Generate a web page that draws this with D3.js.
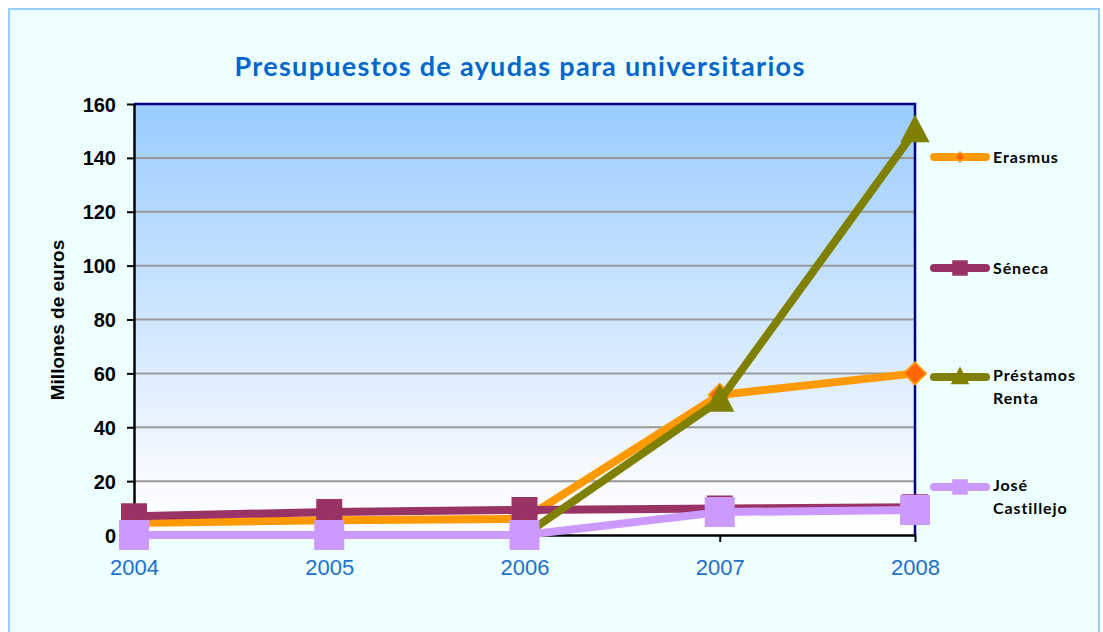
<!DOCTYPE html>
<html><head><meta charset="utf-8">
<script src="https://cdn.jsdelivr.net/npm/d3@7"></script>
<style>body{margin:0;background:#fff}</style>
</head><body>
<svg id="c" width="1103" height="632"></svg>
<script>
const categories = ["2004","2005","2006","2007","2008"];
const seriesNames = ["Erasmus","Séneca","Préstamos Renta","José Castillejo"];
const erasmus = [4.5, 5.5, 6, 52, 60];
const seneca = [7, 8.5, 9.3, 9.8, 10.3];
const prestamos = [0, 0, 0, 50, 150];
const castillejo = [0, 0, 0, 8.5, 9.3];
const yTicks = [0,20,40,60,80,100,120,140,160];
const title = "Presupuestos de ayudas para universitarios";
const yTitle = "Millones de euros";

const svg = d3.select("#c");
const m = {l:134, r:915, t:104, b:535};

svg.append("rect").attr("x",9).attr("y",9).attr("width",1090).attr("height",640)
  .attr("fill","#EEFFFF").attr("stroke","#99CCFF").attr("stroke-width",2);

const defs = svg.append("defs");
const g = defs.append("linearGradient").attr("id","pg").attr("x1",0).attr("y1",0).attr("x2",0).attr("y2",1);
g.append("stop").attr("offset","0%").attr("stop-color","#99CCFF");
g.append("stop").attr("offset","85%").attr("stop-color","#F6F9FF");
g.append("stop").attr("offset","100%").attr("stop-color","#FFFFFF");

const x = d3.scalePoint().domain(categories).range([m.l, m.r]).padding(0);
const y = d3.scaleLinear().domain([0,160]).range([m.b, m.t]);

svg.append("rect").attr("x",m.l).attr("y",m.t).attr("width",m.r-m.l).attr("height",m.b-m.t).attr("fill","url(#pg)");

svg.append("g").selectAll("line").data(yTicks.filter(d=>d>0 && d<160)).join("line")
  .attr("x1",m.l).attr("x2",m.r).attr("y1",d=>y(d)).attr("y2",d=>y(d))
  .attr("stroke","#999999").attr("stroke-width",2);

svg.append("path").attr("d",`M${m.l},${m.t}H${m.r}V${m.b}`).attr("fill","none").attr("stroke","#000080").attr("stroke-width",2.5);

const yAxis = d3.axisLeft(y).tickValues(yTicks).tickSize(7).tickSizeOuter(0);
const ya = svg.append("g").attr("transform",`translate(${m.l},0)`).call(yAxis);
ya.select(".domain").attr("stroke","#000").attr("stroke-width",2.5);
ya.selectAll(".tick line").attr("stroke","#000").attr("stroke-width",2);
ya.selectAll(".tick text").attr("font-family","Liberation Sans, Arial").attr("font-weight","bold").attr("font-size",20).attr("fill","#000").attr("x",-18).attr("dy","0.35em");

const xAxis = d3.axisBottom(x).tickSize(7).tickSizeOuter(0);
const xa = svg.append("g").attr("transform",`translate(0,${m.b})`).call(xAxis);
xa.select(".domain").attr("stroke","#000").attr("stroke-width",2.5);
xa.selectAll(".tick line").attr("stroke","#000").attr("stroke-width",2);
xa.selectAll(".tick text").attr("font-family","Liberation Sans, Arial").attr("font-size",22).attr("fill","#1F6FCC").attr("y",24).attr("dy","0.71em");

svg.append("text").attr("x",520).attr("y",76).attr("text-anchor","middle")
  .attr("font-family","Lato, 'Open Sans', sans-serif").attr("font-weight","bold").attr("font-size",27)
  .attr("fill","#0066CC").attr("letter-spacing",1.3).text(title);

svg.append("text").attr("transform","translate(64,320) rotate(-90)").attr("text-anchor","middle")
  .attr("font-family","Liberation Sans, Arial").attr("font-weight","bold").attr("font-size",19).attr("fill","#000").text(yTitle);

const series = [
  {vals:erasmus, color:"#FF9900", mfill:"#FF6600", mstroke:"#FF9900", shape:"diamond", size:22},
  {vals:seneca, color:"#993366", mfill:"#993366", mstroke:"#993366", shape:"square", size:24},
  {vals:prestamos, color:"#808000", mfill:"#808000", mstroke:"#808000", shape:"triangle", size:26},
  {vals:castillejo, color:"#CC99FF", mfill:"#CC99FF", mstroke:"#CC99FF", shape:"square", size:28}
];

function markerPath(shape, s){
  const h = s/2;
  if(shape==="diamond") return `M0,${-h}L${h},0L0,${h}L${-h},0Z`;
  if(shape==="square") return `M${-h},${-h}H${h}V${h}H${-h}Z`;
  if(shape==="triangle") return `M0,${-h*1.1}L${h},${h*0.8}L${-h},${h*0.8}Z`;
}

const line = d3.line().x((d,i)=>x(categories[i])).y(d=>y(d));
series.forEach(s=>{
  const gg = svg.append("g");
  gg.append("path").datum(s.vals).attr("d",line).attr("fill","none").attr("stroke",s.color).attr("stroke-width",8).attr("stroke-linejoin","round");
  gg.selectAll("path.m").data(s.vals).join("path").attr("class","m")
    .attr("transform",(d,i)=>`translate(${x(categories[i])},${y(d)})`)
    .attr("d",markerPath(s.shape,s.size)).attr("fill",s.mfill).attr("stroke",s.mstroke).attr("stroke-width",2);
});

const legY = [157, 268, 377, 487];
const legLabels = [["Erasmus"],["Séneca"],["Préstamos","Renta"],["José","Castillejo"]];
series.forEach((s,i)=>{
  const lg = svg.append("g").attr("transform",`translate(0,${legY[i]})`);
  lg.append("line").attr("x1",934).attr("x2",986).attr("y1",0).attr("y2",0).attr("stroke",s.color).attr("stroke-width",8).attr("stroke-linecap","round");
  const ms = s.shape==="diamond"?10:(s.shape==="triangle"?16:14);
  lg.append("path").attr("transform","translate(960,0)").attr("d",markerPath(s.shape,ms)).attr("fill",s.mfill).attr("stroke",s.mstroke).attr("stroke-width",1.5);
  const t = lg.append("text").attr("x",993).attr("y",legLabels[i].length>1?4:6)
    .attr("font-family","Lato, 'Open Sans', sans-serif").attr("font-weight","bold").attr("font-size",16).attr("letter-spacing",0.9).attr("fill","#000");
  legLabels[i].forEach((l,j)=>t.append("tspan").attr("x",993).attr("dy",j===0?0:23).text(l));
});
</script>
</body></html>
